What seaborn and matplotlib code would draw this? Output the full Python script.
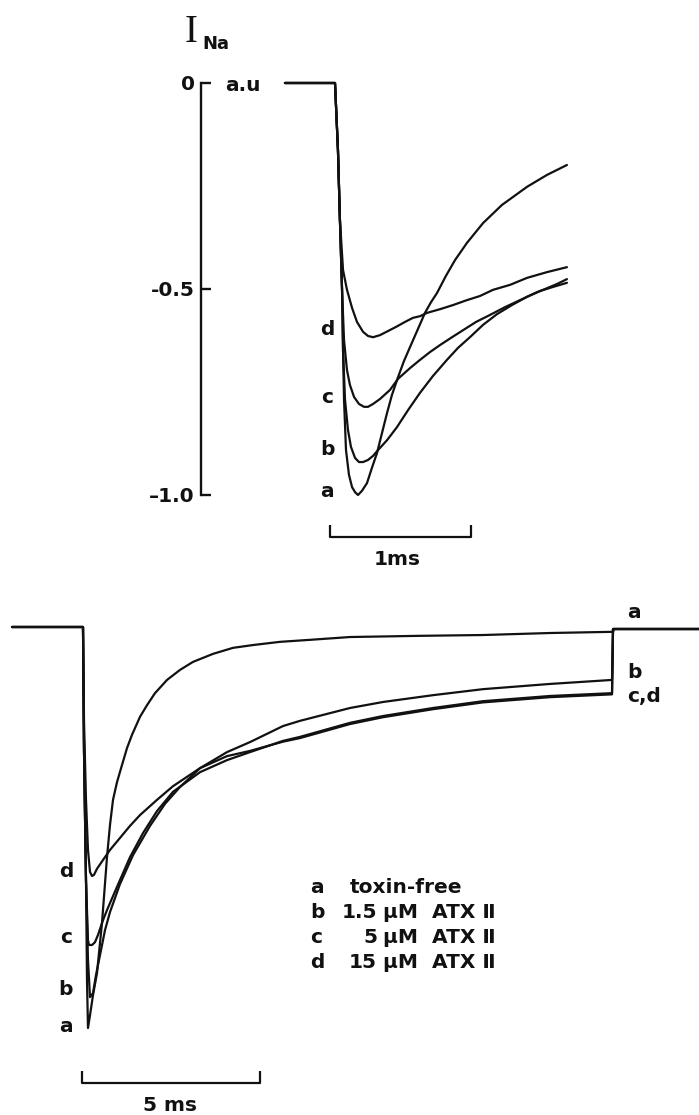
import matplotlib
matplotlib.use("Agg")
import matplotlib.pyplot as plt
import numpy as np
import pandas as pd
import seaborn as sns

sns.set_style("white")
plt.rcParams['font.family'] = ['DejaVu Sans']
plt.rcParams['font.weight'] = 'bold'

# ---------------- data: top panel (time in ms from step, current in a.u.) ----------------
TOP_T_A = [-0.355, 0, 0.021, 0.035, 0.050, 0.057, 0.064, 0.078, 0.099, 0.121, 0.142, 0.163, 0.191, 0.227,
           0.262, 0.298, 0.333, 0.369, 0.404, 0.447, 0.489, 0.532, 0.582, 0.638, 0.681, 0.723, 0.787, 0.851,
           0.936, 1.050, 1.184, 1.362, 1.504, 1.645]
TOP_V_A = [0, 0, -0.163, -0.333, -0.502, -0.648, -0.769, -0.891, -0.951, -0.981, -0.993, -1.0, -0.990, -0.971,
           -0.934, -0.898, -0.850, -0.801, -0.757, -0.714, -0.675, -0.641, -0.602, -0.558, -0.532, -0.510, -0.468, -0.430,
           -0.388, -0.340, -0.296, -0.252, -0.223, -0.199]

TOP_T_B = [-0.355, 0, 0.021, 0.035, 0.050, 0.057, 0.071, 0.092, 0.113, 0.142, 0.170, 0.199, 0.234, 0.270, 0.305,
           0.369, 0.440, 0.518, 0.603, 0.695, 0.794, 0.872, 0.957, 1.050, 1.149, 1.255, 1.362, 1.454, 1.546, 1.645]
TOP_V_B = [0, 0, -0.163, -0.333, -0.502, -0.648, -0.769, -0.842, -0.883, -0.910, -0.920, -0.920, -0.915, -0.905, -0.891,
           -0.867, -0.835, -0.794, -0.752, -0.711, -0.672, -0.643, -0.617, -0.587, -0.561, -0.539, -0.519, -0.505, -0.495, -0.485]

TOP_T_C = [-0.355, 0, 0.021, 0.035, 0.050, 0.064, 0.085, 0.106, 0.135, 0.170, 0.206, 0.234, 0.270, 0.319, 0.390,
           0.447, 0.532, 0.603, 0.674, 0.745, 0.830, 0.908, 1.000, 1.099, 1.206, 1.312, 1.418, 1.504, 1.574, 1.645]
TOP_V_C = [0, 0, -0.163, -0.333, -0.502, -0.624, -0.697, -0.733, -0.762, -0.779, -0.786, -0.786, -0.779, -0.767, -0.745,
           -0.718, -0.692, -0.672, -0.653, -0.636, -0.617, -0.600, -0.580, -0.563, -0.544, -0.527, -0.510, -0.498, -0.488, -0.476]

TOP_T_D = [-0.355, 0, 0.021, 0.035, 0.057, 0.085, 0.121, 0.156, 0.199, 0.234, 0.270, 0.319, 0.376, 0.433,
           0.496, 0.553, 0.603, 0.652, 0.745, 0.837, 0.936, 1.028, 1.121, 1.241, 1.362, 1.504, 1.645]
TOP_V_D = [0, 0, -0.163, -0.333, -0.454, -0.502, -0.546, -0.580, -0.604, -0.614, -0.617, -0.612, -0.602, -0.592,
           -0.580, -0.570, -0.566, -0.558, -0.549, -0.539, -0.527, -0.517, -0.502, -0.490, -0.473, -0.459, -0.447]

# ---------------- data: bottom panel (time in ms from step, current in a.u.) ----------------
BOT_T_A = [-1.994, 0, 0.028, 0.084, 0.112, 0.140, 0.197, 0.281, 0.393, 0.534, 0.674, 0.758, 0.843, 0.955, 1.096,
           1.236, 1.376, 1.601, 1.798, 2.022, 2.360, 2.725, 3.090, 3.652, 4.213, 4.775, 5.534, 6.376, 7.500, 9.466,
           11.236, 13.118, 14.888, 14.916, 15.927, 17.303]
BOT_V_A = [0, 0, -0.307, -0.631, -0.880, -1.0, -0.968, -0.918, -0.863, -0.738, -0.574, -0.494, -0.431, -0.387, -0.344,
           -0.302, -0.269, -0.224, -0.195, -0.165, -0.132, -0.107, -0.087, -0.067, -0.052, -0.045, -0.037, -0.032, -0.025,
           -0.022, -0.020, -0.015, -0.012, -0.005, -0.005, -0.005]

BOT_T_B = [-1.994, 0, 0.028, 0.084, 0.140, 0.197, 0.281, 0.365, 0.478, 0.618, 0.758, 1.039, 1.404, 1.882, 2.303,
           2.725, 3.287, 4.045, 4.691, 5.618, 6.096, 7.500, 8.427, 9.831, 11.236, 13.118, 14.860, 14.888, 17.303]
BOT_V_B = [0, 0, -0.307, -0.631, -0.830, -0.923, -0.913, -0.868, -0.818, -0.756, -0.711, -0.641, -0.569, -0.496, -0.441,
           -0.399, -0.352, -0.312, -0.287, -0.247, -0.234, -0.202, -0.187, -0.170, -0.155, -0.142, -0.132, -0.005, -0.005]

BOT_T_C = [-1.994, 0, 0.028, 0.084, 0.140, 0.169, 0.253, 0.337, 0.421, 0.562, 0.674, 0.955, 1.320, 1.685, 2.079,
           2.528, 3.287, 4.045, 4.691, 5.618, 6.096, 7.500, 8.427, 9.831, 11.236, 13.118, 14.860, 14.888, 17.303]
BOT_V_C = [0, 0, -0.307, -0.631, -0.781, -0.793, -0.793, -0.786, -0.768, -0.731, -0.706, -0.648, -0.574, -0.514, -0.459,
           -0.411, -0.362, -0.332, -0.312, -0.284, -0.274, -0.239, -0.222, -0.202, -0.185, -0.172, -0.165, -0.005, -0.005]

BOT_T_D = [-1.994, 0, 0.028, 0.084, 0.140, 0.197, 0.253, 0.309, 0.393, 0.562, 0.758, 1.039, 1.320, 1.601, 2.079,
           2.528, 3.287, 4.045, 4.691, 5.618, 6.096, 7.500, 8.427, 9.831, 11.236, 13.118, 14.860, 14.888, 17.303]
BOT_V_D = [0, 0, -0.232, -0.431, -0.556, -0.611, -0.621, -0.618, -0.603, -0.581, -0.556, -0.526, -0.496, -0.469, -0.431,
           -0.397, -0.352, -0.322, -0.309, -0.286, -0.277, -0.242, -0.225, -0.205, -0.188, -0.175, -0.168, -0.005, -0.005]

TRACE_NAMES = ["a", "b", "c", "d"]
LEGEND_LETTERS = ["a", "b", "c", "d"]
LEGEND_CONC = ["", "1.5", "5", "15"]
LEGEND_TEXT = ["toxin-free", "µM  ATX Ⅱ", "µM  ATX Ⅱ", "µM  ATX Ⅱ"]
Y_TICKS = [0, -0.5, -1.0]
Y_TICK_LABELS = ["0", "-0.5", "–1.0"]
TOP_SCALE_MS = 1.0
BOT_SCALE_MS = 5.0


def make_df(ts, vs):
    frames = []
    for name, t, v in zip(TRACE_NAMES, ts, vs):
        frames.append(pd.DataFrame({"t": t, "v": v, "trace": name}))
    return pd.concat(frames, ignore_index=True)


top_df = make_df([TOP_T_A, TOP_T_B, TOP_T_C, TOP_T_D], [TOP_V_A, TOP_V_B, TOP_V_C, TOP_V_D])
bot_df = make_df([BOT_T_A, BOT_T_B, BOT_T_C, BOT_T_D], [BOT_V_A, BOT_V_B, BOT_V_C, BOT_V_D])

W, H = 699, 1115
fig = plt.figure(figsize=(W / 100, H / 100), dpi=100)
fig.patch.set_facecolor("white")


def fpos(x, y):
    return x / W, 1 - y / H


FS = 14.5
LW = 1.6
INK = "#111111"

# ---------------- top panel ----------------
TOP_SPLIT = 600
ax1 = fig.add_axes([0, 1 - TOP_SPLIT / H, 1, TOP_SPLIT / H])
ax1.set_facecolor("none")
ms_px_top, au_px_top = 141.0, 412.0
x0_top, y0_top = 335.0, 83.0
ax1.set_xlim(-x0_top / ms_px_top, (W - x0_top) / ms_px_top)
ax1.set_ylim(-(TOP_SPLIT - y0_top) / au_px_top, y0_top / au_px_top)

sns.lineplot(data=top_df, x="t", y="v", units="trace", estimator=None, sort=False,
             color=INK, lw=LW, ax=ax1, legend=False)
for ln in ax1.lines:
    ln.set_solid_joinstyle("round")

for s in ["top", "right", "bottom"]:
    ax1.spines[s].set_visible(False)
ax1.spines["left"].set_position(("data", (201 - x0_top) / ms_px_top))
ax1.spines["left"].set_bounds(-1.0, 0.0)
ax1.spines["left"].set_linewidth(1.7)
ax1.spines["left"].set_color(INK)
ax1.set_xticks([])
ax1.set_yticks(Y_TICKS)
ax1.set_yticklabels(Y_TICK_LABELS, fontsize=FS, fontweight="bold")
ax1.tick_params(axis="y", direction="in", length=7.5, width=1.7, pad=4.5, colors=INK, left=True)
ax1.set_xlabel("")
ax1.set_ylabel("")

# scale bar 1 ms
sb_x0 = (330 - x0_top) / ms_px_top
sb_y = -(537 - y0_top) / au_px_top
sb_yt = -(525 - y0_top) / au_px_top
ax1.plot([sb_x0, sb_x0, sb_x0 + TOP_SCALE_MS, sb_x0 + TOP_SCALE_MS], [sb_yt, sb_y, sb_y, sb_yt],
         color=INK, lw=LW, solid_capstyle="butt")

# ---------------- bottom panel ----------------
ax2 = fig.add_axes([0, 0, 1, 1 - TOP_SPLIT / H])
ax2.set_facecolor("none")
ms_px_bot, au_px_bot = 35.6, 401.0
x0_bot, y0_bot = 83.0, 627.0
ax2.set_xlim(-x0_bot / ms_px_bot, (W - x0_bot) / ms_px_bot)
ax2.set_ylim(-(H - y0_bot) / au_px_bot, (y0_bot - TOP_SPLIT) / au_px_bot)

sns.lineplot(data=bot_df, x="t", y="v", units="trace", estimator=None, sort=False,
             color=INK, lw=LW, ax=ax2, legend=False)
for ln in ax2.lines:
    ln.set_solid_joinstyle("round")
ax2.set_axis_off()

sb2_x0 = (82 - x0_bot) / ms_px_bot
sb2_y = -(1083 - y0_bot) / au_px_bot
sb2_yt = -(1071 - y0_bot) / au_px_bot
ax2.plot([sb2_x0, sb2_x0, sb2_x0 + BOT_SCALE_MS, sb2_x0 + BOT_SCALE_MS], [sb2_yt, sb2_y, sb2_y, sb2_yt],
         color=INK, lw=LW, solid_capstyle="butt")

# ---------------- texts ----------------
def txt(x, y, s, ha="left", va="baseline", size=FS, **kw):
    fx, fy = fpos(x, y)
    fig.text(fx, fy, s, ha=ha, va=va, fontsize=size, fontweight=kw.pop("fontweight", "bold"), color=INK, **kw)

# I_Na label
txt(191, 42, "I", ha="center", size=28, family=["Liberation Serif"], fontweight="normal")
txt(202, 49, "Na", size=13)
txt(225, 91, "a.u")

# top trace letters
for name, yb in zip(["d", "c", "b", "a"], [335, 403, 455, 497]):
    txt(327, yb, name, ha="center")
txt(397, 565, "1ms", ha="center")

# bottom trace letters (left)
for name, yb in zip(["d", "c", "b", "a"], [877, 943, 995, 1032]):
    txt(66, yb, name, ha="center")
# right end letters
txt(627, 618, "a")
txt(627, 678, "b")
txt(627, 702, "c,d")

# legend
for i, (lt, conc, lab) in enumerate(zip(LEGEND_LETTERS, LEGEND_CONC, LEGEND_TEXT)):
    yb = 893 + 25 * i
    txt(310, yb, lt)
    if conc:
        txt(377, yb, conc, ha="right")
        txt(383, yb, lab)
    else:
        txt(350, yb, lab)

txt(170, 1111, "5 ms", ha="center")

fig.savefig("out.png", dpi=100, facecolor="white")
